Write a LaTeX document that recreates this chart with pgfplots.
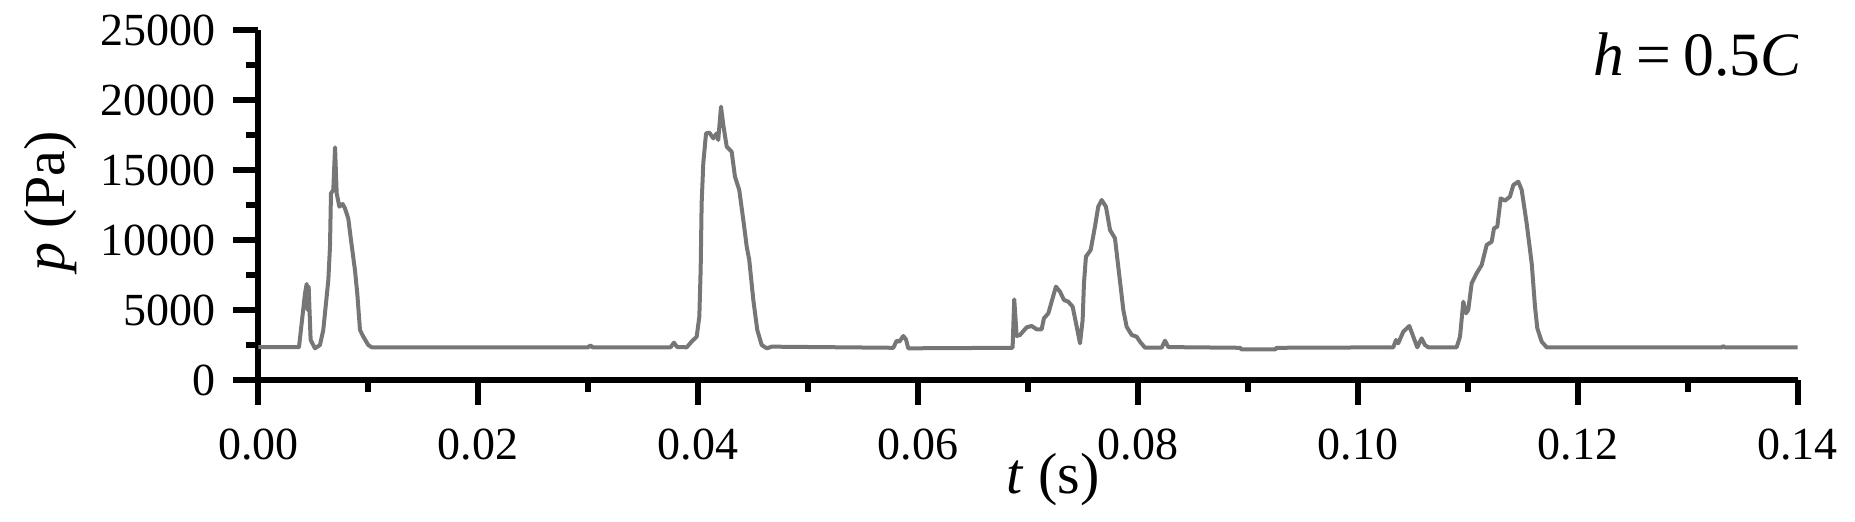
\documentclass[border=0pt]{standalone}
\usepackage{fontspec}
\setmainfont{Liberation Serif}
\usepackage{pgfplots}
\pgfplotsset{compat=1.18}
\definecolor{curve}{RGB}{118,118,118}

\pgfplotstableread{
t p
0 2340
0.0037 2340
0.00425 6190
0.0044 6857
0.00449 5000
0.00458 6667
0.00476 2857
0.00516 2262
0.00561 2500
0.00591 3571
0.00637 7143
0.00652 9524
0.00661 13333
0.00682 13571
0.00698 16619
0.00713 13333
0.00737 12381
0.00767 12571
0.00788 12262
0.00818 11548
0.00843 10000
0.00879 7857
0.00900 6190
0.00925 3571
0.00955 3095
0.01000 2500
0.01031 2336
0.0300 2336
0.0302 2480
0.0304 2336
0.0375 2336
0.0378 2667
0.0381 2350
0.03896 2336
0.03941 2738
0.03987 3095
0.04011 4524
0.04023 7857
0.04032 12619
0.04047 15476
0.04072 17619
0.04102 17667
0.04138 17262
0.04169 17619
0.04183 17143
0.04208 19524
0.04229 18214
0.0426 16667
0.04305 16310
0.04335 14524
0.04374 13571
0.04411 11429
0.04442 9524
0.04465 8571
0.04502 5714
0.04538 3571
0.04578 2500
0.04624 2262
0.04669 2381
0.05775 2300
0.05806 2810
0.0583 2738
0.05866 3143
0.0589 2905
0.05911 2262
0.0686 2300
0.06875 5762
0.06897 3143
0.06927 3214
0.06988 3762
0.07033 3857
0.07079 3619
0.07124 3619
0.07145 4405
0.07185 4762
0.07215 5595
0.07254 6667
0.07291 6310
0.07327 5714
0.07366 5595
0.07406 5238
0.07443 3810
0.07473 2619
0.07497 4286
0.07509 6905
0.07527 8810
0.0757 9286
0.07609 10952
0.07639 12381
0.0767 12857
0.07709 12381
0.07746 10714
0.07791 10119
0.07821 8095
0.07845 6500
0.07867 5000
0.07897 3810
0.07943 3214
0.07988 3095
0.08018 2738
0.08064 2310
0.08216 2310
0.08246 2810
0.08276 2350
0.0893 2300
0.0894 2190
0.0925 2190
0.0926 2300
0.10322 2333
0.10347 2857
0.10367 2619
0.10413 3452
0.10468 3857
0.10504 3095
0.1054 2333
0.1058 2976
0.1061 2500
0.1064 2333
0.10898 2333
0.10929 3095
0.10959 5595
0.10983 4762
0.11004 5000
0.11035 6905
0.1108 7619
0.11126 8214
0.11171 9643
0.11217 9881
0.11238 10833
0.11268 10952
0.11299 12976
0.11338 12810
0.11383 13095
0.11414 13929
0.11459 14167
0.1149 13571
0.11535 11190
0.11581 8333
0.11611 5238
0.11632 3690
0.11672 2738
0.11717 2333
0.1331 2333
0.1332 2420
0.1334 2333
0.14 2333
}\pressure

\begin{document}
\begin{tikzpicture}
\path[use as bounding box] (-64.575pt,-35.5pt) rectangle (399.175pt,95pt);
\begin{axis}[
  scale only axis,
  width=384.85pt, height=87.5pt,
  xmin=0, xmax=0.14,
  ymin=0, ymax=25000,
  axis x line=bottom, axis y line=left,
  axis line style={-, line width=1.5pt},
  tick align=outside,
  major tick length=6.25pt,
  minor tick length=3.1pt,
  tick style={black, line width=1.4pt},
  xtick={0,0.02,0.04,0.06,0.08,0.1,0.12,0.14},
  ytick={0,5000,10000,15000,20000,25000},
  minor x tick num=1,
  minor y tick num=1,
  scaled ticks=false,
  /pgf/number format/assume math mode=true,
  tick label style={font=\fontsize{11.5}{13}\selectfont},
  xticklabel style={/pgf/number format/fixed, /pgf/number format/fixed zerofill, /pgf/number format/precision=2, yshift=-2.5pt},
  yticklabel style={/pgf/number format/1000 sep={}, xshift=-1pt},
  label style={font=\fontsize{14.5}{16}\selectfont},
  xlabel={\textit{t} (s)},
  ylabel={\textit{p} (Pa)},
  xlabel style={at={(axis description cs:0.5163,-0.323)}, anchor=base},
  ylabel style={at={(axis description cs:-0.126,0.51)}, anchor=base},
]
\addplot[curve, line width=1.0pt, line join=round] table[x=t, y=p] {\pressure};
\node[anchor=base east, inner sep=0pt, font=\fontsize{15.4}{17}\selectfont]
  at (axis description cs:1.0035,0.871) {\textit{h}\hspace{0.2em}=\hspace{0.2em}0.5\textit{C}};
\end{axis}
\end{tikzpicture}
\end{document}
